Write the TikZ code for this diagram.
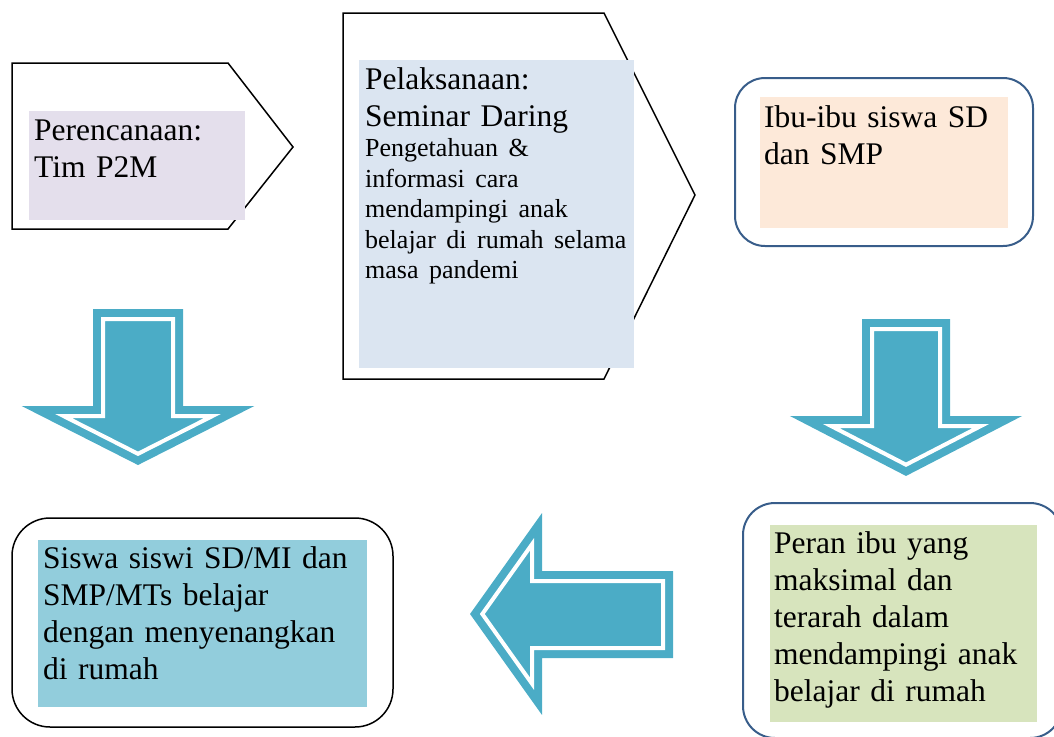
\documentclass[tikz,border=0pt]{standalone}
\usepackage{fontspec}
\setmainfont{Liberation Serif}
\usepackage{xcolor}
\usepackage{tikz}

\definecolor{planfill}{HTML}{E4DFEC}
\definecolor{seminarfill}{HTML}{DBE5F1}
\definecolor{ibufill}{HTML}{FDE9D9}
\definecolor{peranfill}{HTML}{D7E4BD}
\definecolor{siswafill}{HTML}{92CDDC}
\definecolor{arrowteal}{HTML}{4BACC6}
\definecolor{frameblue}{HTML}{385D8A}

\begin{document}
\begin{tikzpicture}[
    x=1pt, y=-1pt,
    textbox/.style={anchor=north west, inner ysep=0pt, align=left, font=\fontsize{31.5}{37}\selectfont},
    frame/.style={draw=black, line width=1.5pt},
    blueframe/.style={draw=frameblue, line width=2pt, rounded corners=30pt},
    blockarrow/.style={fill=arrowteal, draw=arrowteal, double=white, double distance=4pt, line width=8pt, line join=miter}
]

\useasboundingbox (0,0) rectangle (1054,736);
\clip (0,0) rectangle (1054,736);

% outlines
\draw[frame] (12,63) -- (228,63) -- (293,147) -- (228,229) -- (12,229) -- cycle;
\draw[frame] (343,13) -- (604,13) -- (695,195) -- (604,379) -- (343,379) -- cycle;
\draw[blueframe] (735,78) rectangle (1033,246);
\draw[blueframe, rounded corners=32pt] (743,503) rectangle (1062,738);
\draw[frame, rounded corners=38pt] (12,518) rectangle (393,727);

% text boxes
\node[textbox, fill=planfill, inner xsep=5pt, text width=206pt, text height=29pt, text depth=80pt] (perencanaan) at (29,111) {Perencanaan:\\Tim P2M};
\node[textbox, fill=seminarfill, inner xsep=6pt, text width=263pt, text height=29pt, text depth=279pt] (pelaksanaan) at (359,60) {Pelaksanaan:\\Seminar Daring\par\fontsize{26}{30.5}\selectfont Pengetahuan \&\\informasi cara\\mendampingi anak\\\mbox{belajar di rumah selama}\\masa pandemi\par};
\node[textbox, fill=ibufill, inner xsep=4pt, text width=240pt, text height=30pt, text depth=101pt] (ibu) at (760,97) {Ibu-ibu siswa SD\\dan SMP};
\node[textbox, fill=peranfill, inner xsep=4pt, text width=259pt, text height=28pt, text depth=169pt] (peran) at (770,525) {Peran ibu yang\\maksimal dan\\terarah dalam\\mendampingi anak\\belajar di rumah};
\node[textbox, fill=siswafill, inner xsep=5pt, text width=319pt, text height=28pt, text depth=139pt] (siswa) at (38,540) {Siswa siswi SD/MI dan\\SMP/MTs belajar\\dengan menyenangkan\\di rumah};

% block arrows
\draw[blockarrow] (103,319) -- (173,319) -- (173,416) -- (212.5,416) -- (138,453.8) -- (63.5,416) -- (103,416) -- cycle;
\draw[blockarrow] (872,329) -- (940,329) -- (940,426) -- (980.9,426) -- (906,464.7) -- (831.1,426) -- (872,426) -- cycle;
\draw[blockarrow] (663,581) -- (532,581) -- (532,544.3) -- (482.3,614) -- (532,683.7) -- (532,648) -- (663,648) -- cycle;

\end{tikzpicture}
\end{document}
